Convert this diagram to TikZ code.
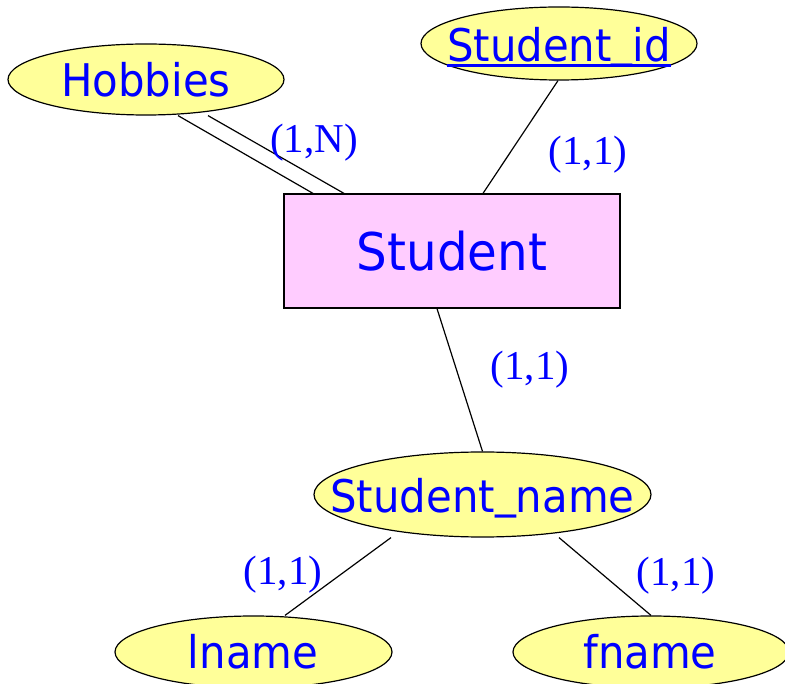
\documentclass[tikz,border=0pt]{standalone}
\usepackage{fontspec}
\setmainfont{DejaVu Sans}[FakeStretch=0.93]
\newfontfamily\labfont{Liberation Serif}
\usetikzlibrary{shapes.geometric,calc}
\definecolor{attrfill}{HTML}{FFFF99}
\definecolor{entfill}{HTML}{FFCCFF}
\definecolor{txtblue}{HTML}{0000FF}
\newcommand{\lowbar}{\raisebox{0.12em}{\_}}
\begin{document}
\begin{tikzpicture}[x=1pt,y=-1pt,
  attr/.style={ellipse, draw=black, line width=1.2pt, fill=attrfill, inner sep=0pt},
  ent/.style={rectangle, draw=black, line width=1.2pt, fill=entfill, inner sep=0pt,
    minimum width=336pt, minimum height=114pt},
  nm/.style={text=txtblue, inner sep=0pt, font=\fontsize{45}{50}\selectfont,
    text height=33pt, text depth=0pt},
  card/.style={text=txtblue, inner sep=0pt, font=\labfont\fontsize{41}{46}\selectfont},
  conn/.style={line width=1.2pt, draw=black}]
\useasboundingbox (0,0) rectangle (785,684);
\clip (0,0) rectangle (785,684);

% shapes
\node[attr, minimum width=276pt, minimum height=71pt] (hob) at (146,79.5) {};
\node[attr, minimum width=276pt, minimum height=73pt] (sid) at (559,43.5) {};
\node[ent] (stu) at (452,251) {};
\node[attr, minimum width=337pt, minimum height=85pt] (sn) at (482.5,494.5) {};
\node[attr, minimum width=277pt, minimum height=72pt] (lna) at (253.5,652) {};
\node[attr, minimum width=276pt, minimum height=72pt] (fna) at (651,652) {};

% connectors
\draw[conn] ($(hob.south)+(32,0)$) -- ($(stu.north)+(-139,0)$);
\draw[conn] ($(hob.south)+(62,0)$) -- ($(stu.north)+(-108,0)$);
\draw[conn] ($(sid.south)+(-1,0)$) -- ($(stu.north)+(31,0)$);
\draw[conn] ($(stu.south)+(-15,0)$) -- (sn.north);
\draw[conn] ($(sn.south)+(-91.5,0)$) -- ($(lna.north)+(31.5,0)$);
\draw[conn] ($(sn.south)+(76.5,0)$) -- (fna.north);

% texts
\node[nm] (hobT) at (146,80) {Hobbies};
\node[nm, text height=34pt] (sidT) at (559,45) {Student\lowbar id};
\draw[txtblue, line width=2.4pt] ($(sidT.south west)+(0,3.5)$) -- ($(sidT.south east)+(0,3.5)$);
\node[nm, font=\fontsize{52}{60}\selectfont, text height=38pt] (stuT) at (452,252) {Student};
\node[nm] (snT) at (482.5,496.5) {Student\lowbar name};
\node[nm] (lnaT) at (253,651.5) {lname};
\node[nm] (fnaT) at (650,651.5) {fname};

% cardinalities
\node[card] (c1) at (314,142.5) {(1,N)};
\node[card] (c2) at (588,155) {(1,1)};
\node[card] (c3) at (530,370) {(1,1)};
\node[card] (c4) at (283,575) {(1,1)};
\node[card] (c5) at (676,575.5) {(1,1)};
\end{tikzpicture}
\end{document}
